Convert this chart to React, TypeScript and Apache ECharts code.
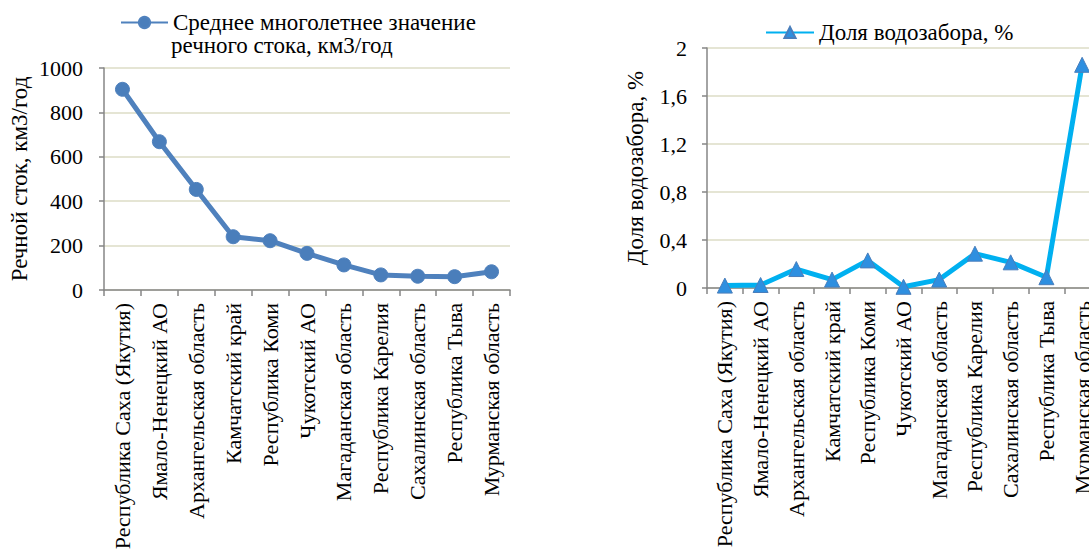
import React, { useEffect, useRef } from "react";
import * as echarts from "echarts";

const categories = [
  "Республика Саха (Якутия)",
  "Ямало-Ненецкий АО",
  "Архангельская область",
  "Камчатский край",
  "Республика Коми",
  "Чукотский АО",
  "Магаданская область",
  "Республика Карелия",
  "Сахалинская область",
  "Республика Тыва",
  "Мурманская область",
];

const runoffValues = [904, 668, 453, 240, 222, 165, 113, 68, 62, 60, 82];
const withdrawalShare = [0.02, 0.025, 0.158, 0.07, 0.23, 0.01, 0.07, 0.286, 0.214, 0.09, 1.86];

const runoffName = "Среднее многолетнее значение речного стока, км3/год";
const runoffLegendLine1 = "Среднее многолетнее значение";
const runoffLegendLine2 = "речного стока, км3/год";
const shareName = "Доля водозабора, %";
const leftAxisName = "Речной сток, км3/год";
const rightAxisName = "Доля водозабора, %";

const FONT = "Liberation Serif";

export default function App() {
  const ref = useRef<HTMLDivElement>(null);

  useEffect(() => {
    if (!ref.current) return;
    const chart = echarts.init(ref.current, undefined, { renderer: "svg" });
    const axisGray = "#868686";
    const gridColor = "#dcdcc6";

    const xAxisCommon = {
      type: "category" as const,
      data: categories,
      boundaryGap: true,
      axisLine: { show: true, lineStyle: { color: axisGray, width: 1.5 } },
      axisTick: { show: true, length: 6, lineStyle: { color: axisGray, width: 1.5 } },
      axisLabel: {
        interval: 0,
        rotate: 90,
        margin: 13,
        color: "#000",
        fontFamily: FONT,
        fontSize: 22,
        hideOverlap: false,
        padding: [8, 0, 0, 0],
      },
    };

    const option = {
      animation: false,
      backgroundColor: "#fff",
      textStyle: { fontFamily: FONT },
      grid: [
        { left: 104, top: 68, width: 406, height: 222, containLabel: false, outerBoundsMode: "none" },
        { left: 707, top: 48, width: 393, height: 240, containLabel: false, outerBoundsMode: "none" },
      ],
      legend: [
        {
          data: [runoffName],
          left: 115,
          top: 6,
          itemWidth: 47,
          itemHeight: 14,
          formatter: () => runoffLegendLine1,
          textStyle: { color: "#000", fontFamily: FONT, fontSize: 23 },
        },
        {
          data: [shareName],
          left: 760,
          top: 16,
          itemWidth: 48,
          itemHeight: 14,
          textStyle: { color: "#000", fontFamily: FONT, fontSize: 23 },
        },
      ],
      graphic: [
        {
          type: "text",
          left: 171,
          top: 34,
          style: { text: runoffLegendLine2, fill: "#000", fontFamily: FONT, fontSize: 23 },
        },
      ],
      xAxis: [
        { ...xAxisCommon, gridIndex: 0 },
        { ...xAxisCommon, gridIndex: 1 },
      ],
      yAxis: [
        {
          type: "value",
          gridIndex: 0,
          min: 0,
          max: 1000,
          interval: 200,
          name: leftAxisName,
          nameLocation: "middle",
          nameRotate: 90,
          nameGap: 73,
          nameTextStyle: { color: "#000", fontFamily: FONT, fontSize: 23 },
          axisLine: { show: true, lineStyle: { color: axisGray, width: 1.5 } },
          axisTick: { show: true, length: 5, lineStyle: { color: axisGray, width: 1.5 } },
          axisLabel: {
            margin: 21,
            color: "#000",
            fontFamily: FONT,
            fontSize: 22,
            formatter: (v: number) => String(v),
          },
          splitLine: { show: true, lineStyle: { color: gridColor, width: 1.5 } },
        },
        {
          type: "value",
          gridIndex: 1,
          min: 0,
          max: 2,
          interval: 0.4,
          name: rightAxisName,
          nameLocation: "middle",
          nameRotate: 90,
          nameGap: 60,
          nameTextStyle: { color: "#000", fontFamily: FONT, fontSize: 23 },
          axisLine: { show: true, lineStyle: { color: axisGray, width: 1.5 } },
          axisTick: { show: true, length: 5, lineStyle: { color: axisGray, width: 1.5 } },
          axisLabel: {
            margin: 20,
            color: "#000",
            fontFamily: FONT,
            fontSize: 22,
            formatter: (v: number) => {
              const r = Math.round(v * 10) / 10;
              return Number.isInteger(r) ? String(r) : r.toFixed(1).replace(".", ",");
            },
          },
          splitLine: { show: true, lineStyle: { color: gridColor, width: 1.5 } },
        },
      ],
      series: [
        {
          name: runoffName,
          type: "line",
          xAxisIndex: 0,
          yAxisIndex: 0,
          data: runoffValues,
          symbol: "circle",
          symbolSize: 14,
          lineStyle: { color: "#4F81BD", width: 5 },
          itemStyle: { color: "#4A7EBB", borderColor: "#4F81BD", borderWidth: 1 },
        },
        {
          name: shareName,
          type: "line",
          xAxisIndex: 1,
          yAxisIndex: 1,
          data: withdrawalShare,
          symbol: "triangle",
          symbolSize: 15,
          lineStyle: { color: "#00B0F0", width: 5 },
          itemStyle: { color: "#2E8FE0", borderColor: "#4A7EBB", borderWidth: 1 },
        },
      ],
    };

    chart.setOption(option as any);
    return () => chart.dispose();
  }, []);

  return (
    <div
      ref={ref}
      style={{ position: "fixed", left: 0, top: 0, width: 1089, height: 553, background: "#fff" }}
    />
  );
}
